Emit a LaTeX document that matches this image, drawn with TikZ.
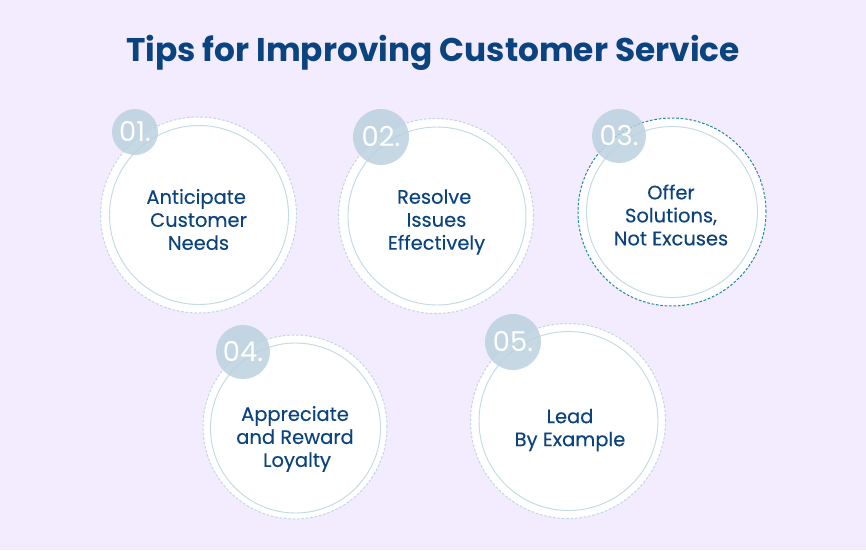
\documentclass[tikz,border=0pt]{standalone}
\usepackage{fontspec}
\setmainfont{Poppins}
\newfontfamily\tipfont{Poppins}[FakeBold=0.2]
\definecolor{bgc}{HTML}{F2ECFE}
\definecolor{navy}{HTML}{0B437F}
\definecolor{ringc}{HTML}{C3D7E3}
\definecolor{innerc}{HTML}{C3DAE3}
\definecolor{tealc}{HTML}{1F8AA0}
\definecolor{badgec}{HTML}{BBD2DF}
\tikzset{
  x=0.75pt,y=-0.75pt,
  outerring/.style={circle,draw=ringc,fill=white,line width=0.75pt,dash pattern=on 2pt off 1.3pt,inner sep=0pt,minimum size=#1*0.75pt},
  innerring/.style={circle,draw=innerc,fill=white,line width=0.7pt,inner sep=0pt,minimum size=#1*0.75pt},
  badge/.style={circle,fill=badgec,fill opacity=.85,text opacity=1,text=white,inner sep=0pt,minimum size=#1*0.75pt,font=\fontsize{20.5}{22}\selectfont},
  tiptext/.style={text=navy,align=center,inner sep=0pt,font=\tipfont\fontsize{14.6}{17.25}\selectfont},
}
\begin{document}
\begin{tikzpicture}
\useasboundingbox[fill=bgc] (0,0) rectangle (866,550);
\node[text=navy,inner sep=0pt,font=\bfseries\fontsize{24.6}{28}\selectfont] (title) at (433,52.5) {Tips for Improving Customer Service};

\node[outerring=196] (o1) at (198.5,215) {};
\node[innerring=179] (i1) at (199,215) {};
\node[tiptext] (t1) at (198.5,219.5) {Anticipate\hspace*{3.5pt}\\Customer\\Needs};
\node[badge=46] (b1) at (135,132) {01.};

\node[outerring=195] (o2) at (436,216) {};
\node[innerring=178] (i2) at (437,216) {};
\node[tiptext] (t2) at (436.5,222) {Resolve\hspace*{3.5pt}\\Issues\\Effectively};
\node[badge=56] (b2) at (381,137) {02.};

\node[outerring=188,draw=tealc] (o3) at (672,212) {};
\node[innerring=171] (i3) at (672,212) {};
\node[tiptext] (t3) at (671,215) {Offer\\Solutions,\\Not Excuses};
\node[badge=54] (b3) at (619,136) {03.};

\node[outerring=184] (o4) at (295,427) {};
\node[innerring=170] (i4) at (295.5,428) {};
\node[tiptext] (t4) at (295,439) {Appreciate\\and Reward\\\hspace*{3pt}Loyalty};
\node[badge=54] (b4) at (243,352) {04.};

\node[outerring=195] (o5) at (568,421) {};
\node[innerring=179] (i5) at (568.5,421) {};
\node[tiptext] (t5) at (570,430) {Lead\\By Example};
\node[badge=56] (b5) at (513,342) {05.};
\end{tikzpicture}
\end{document}
